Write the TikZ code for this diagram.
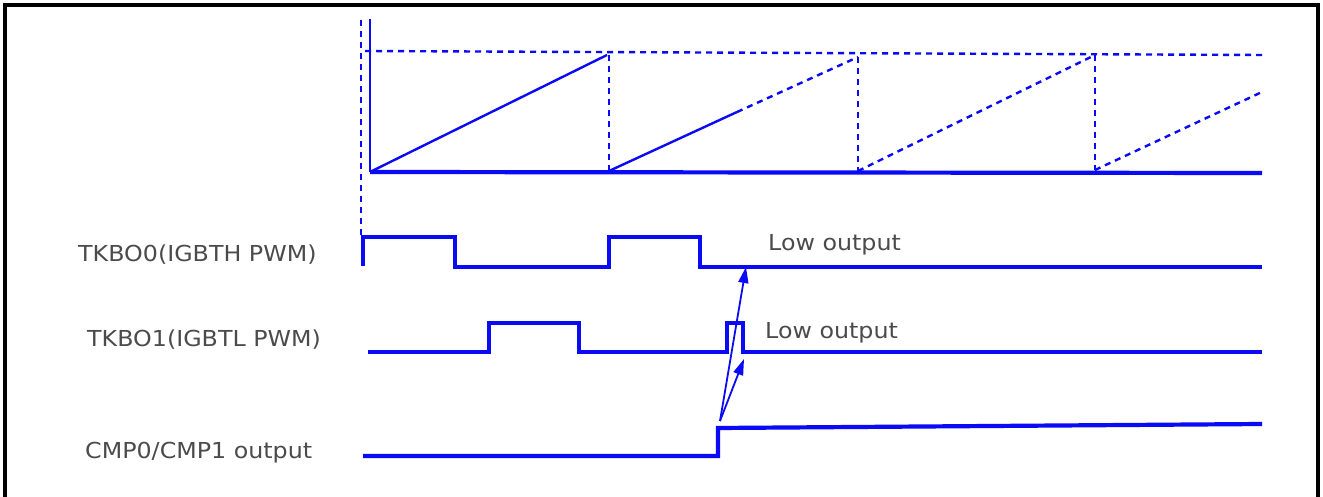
\documentclass[tikz,border=0pt]{standalone}
\usepackage{fontspec}
\setmainfont{DejaVu Sans}
\usetikzlibrary{arrows.meta}
\definecolor{sig}{RGB}{10,10,245}
\definecolor{txt}{RGB}{75,75,75}
\tikzset{
  frame/.style={line width=3.2pt,black},
  wave/.style={sig,line width=4.2pt,line join=miter},
  thin/.style={sig,line width=2.4pt},
  dsh/.style={sig,line width=2.4pt,dash pattern=on 6pt off 5pt},
  lbl/.style={txt,font=\fontsize{22}{24}\selectfont,xscale=1.08,inner sep=0pt},
  arr/.style={sig,line width=1.8pt,-{Triangle[length=16pt,width=10pt]}}
}
\begin{document}
\begin{tikzpicture}[x=1pt,y=-1pt]
\useasboundingbox (0,0) rectangle (1323,497);
% frame
\draw[frame] (5,497) -- (5,5) -- (1318,5) -- (1318,497);

% ---- top sawtooth plot ----
\draw[dsh] (361,20) -- (361,236);
\draw[thin] (370,19) -- (370,172);
\draw[dsh] (365,51) -- (1262,55);
\draw[thin] (370,172) -- (607,55);
\draw[dsh] (609,55) -- (609,171);
\draw[thin] (609,171) -- (737,112);
\draw[dsh] (737,112) -- (858,57);
\draw[dsh] (858,57) -- (858,171);
\draw[dsh] (858,171) -- (1095,55);
\draw[dsh] (1095,55) -- (1095,170);
\draw[dsh] (1095,170) -- (1262,92);
\draw[sig,line width=4.2pt] (370,172) -- (1262,173);

% ---- labels ----
\node[lbl,anchor=west] (l0) at (78,255) {TKBO0(IGBTH PWM)};
\node[lbl,anchor=west] (l1) at (87,340) {TKBO1(IGBTL PWM)};
\node[lbl,anchor=west] (l2) at (85,453) {CMP0/CMP1 output};
\node[lbl,anchor=west] (lo0) at (768,245) {Low output};
\node[lbl,anchor=west] (lo1) at (765,333) {Low output};

% ---- TKBO0 ----
\draw[wave] (363,266) -- (363,237) -- (455,237) -- (455,267) -- (609,267)
  -- (609,237) -- (700,237) -- (700,267) -- (1262,267);
% ---- TKBO1 ----
\draw[wave] (368,352) -- (489,352) -- (489,323) -- (579,323) -- (579,352)
  -- (727,352) -- (727,323) -- (743,323) -- (743,352) -- (1262,352);
% ---- CMP ----
\draw[wave] (363,456) -- (718,456) -- (718,428) -- (1262,424);

% ---- arrows ----
\coordinate (src) at (720,421);
\coordinate (t0) at (746,267);
\coordinate (t1) at (744,359);
\draw[arr] (src) -- (t0);
\draw[arr] (src) -- (t1);
\end{tikzpicture}
\end{document}
